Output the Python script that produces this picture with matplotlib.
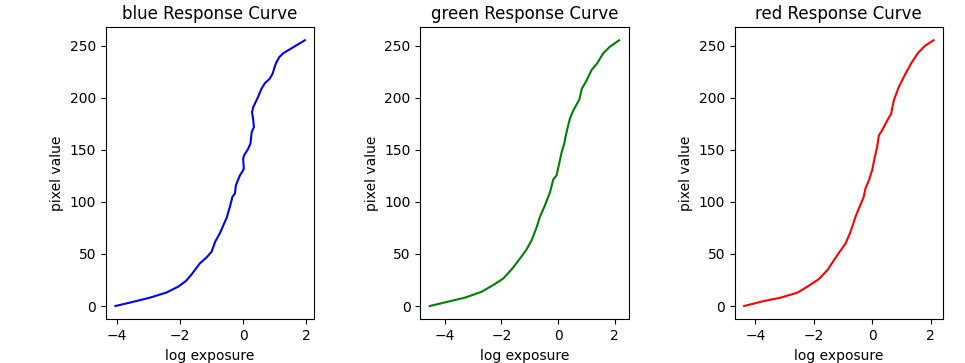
import matplotlib
matplotlib.use("Agg")
import matplotlib.pyplot as plt

channels = ["blue", "green", "red"]

blue_log_exposure = [-4.04, -3.48, -2.95, -2.42, -2.06, -1.81, -1.64, -1.37, -1.16, -1.00,
                     -0.88, -0.74, -0.51, -0.47, -0.42, -0.34, -0.26, -0.23, -0.19, -0.10,
                     0.00, 0.02, 0.00, 0.03, 0.16, 0.23, 0.27, 0.34, 0.32, 0.28,
                     0.32, 0.47, 0.58, 0.69, 0.84, 0.93, 1.03, 1.14, 1.27, 1.95]
blue_pixel = [0, 4, 8, 13, 18.5, 24, 30, 40.9, 46.6, 52,
              62, 69.6, 85.5, 90.3, 95.1, 104.7, 108, 115.9, 119, 125.5,
              130.3, 131.9, 141.5, 144.6, 151, 155.8, 167, 171.7, 178.2, 186.1,
              190.9, 200.5, 208.5, 213.9, 218.1, 222.9, 232.5, 238.8, 242.6, 255]

green_log_exposure = [-4.53, -3.88, -3.29, -2.70, -2.29, -1.93, -1.64, -1.34, -1.11, -0.93,
                      -0.75, -0.64, -0.46, -0.28, -0.17, -0.05, 0.04, 0.13, 0.22, 0.25,
                      0.33, 0.42, 0.54, 0.75, 0.84, 1.01, 1.19, 1.37, 1.60, 1.84, 2.16]
green_pixel = [0, 4.2, 8, 13.7, 20.1, 26.5, 35.1, 45.7, 54.3, 63.2,
               76, 85.6, 96.7, 109.5, 121.3, 125.5, 136.7, 147.8, 155.8, 160.6,
               170.2, 179.8, 187.7, 198, 208.5, 216.5, 226.7, 232.4, 242.7, 249, 255]

red_log_exposure = [-4.38, -3.70, -3.13, -2.56, -2.22, -1.82, -1.53, -1.19, -0.91, -0.74,
                    -0.57, -0.42, -0.29, -0.23, -0.11, 0.00, 0.08, 0.17, 0.23, 0.34,
                    0.53, 0.65, 0.74, 0.91, 1.14, 1.36, 1.59, 1.82, 2.10]
red_pixel = [0, 4.8, 8, 12.8, 18.5, 25.9, 34.5, 48.9, 60, 71.2,
             85.6, 95.8, 104.7, 112.7, 120.7, 130.3, 141.4, 152.6, 163.8, 168.6,
             178.8, 184.5, 197.3, 210.1, 222.9, 234, 243.6, 250, 255]

data = {
    "blue": (blue_log_exposure, blue_pixel),
    "green": (green_log_exposure, green_pixel),
    "red": (red_log_exposure, red_pixel),
}

fig, axes = plt.subplots(1, 3, figsize=(9.65, 3.63), dpi=100)
fig.subplots_adjust(left=0.1098, right=0.9772, bottom=0.1204, top=0.9256, wspace=0.509)

for ax, ch in zip(axes, channels):
    x, y = data[ch]
    ax.plot(x, y, color=ch, linewidth=1.5)
    ax.set_title(f"{ch} Response Curve")
    ax.set_xlabel("log exposure")
    ax.set_ylabel("pixel value")

fig.savefig("out.png", dpi=100)
